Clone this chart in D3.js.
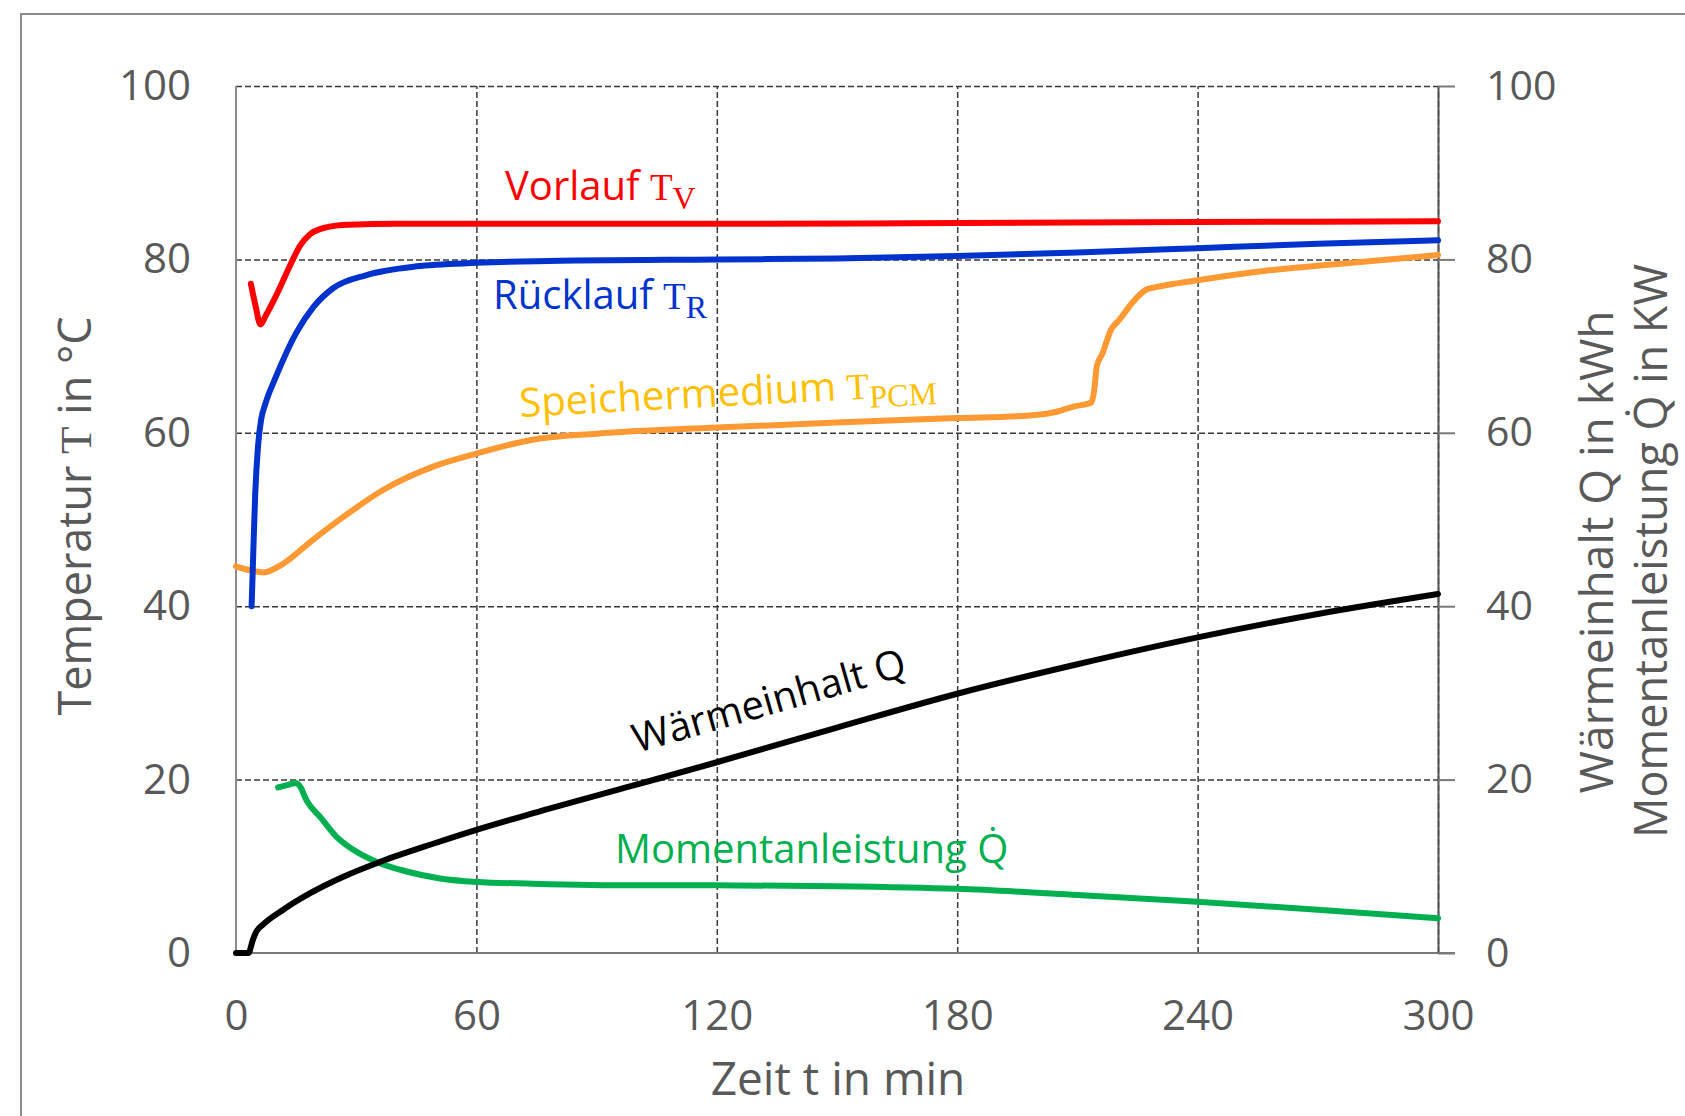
<!DOCTYPE html>
<html>
<head>
<meta charset="utf-8">
<script src="https://cdn.jsdelivr.net/npm/d3@7"></script>
<style>
  body { margin: 0; background: #fff; }
  text { font-family: "Open Sans", "Noto Sans", sans-serif; }
  .serif { font-family: "Liberation Serif", "DejaVu Serif", serif; }
</style>
</head>
<body>
<div id="chart"></div>
<script>
// time in min, value
var vorlauf = [[3.7,77.2],[4.9,74.6],[6.1,72.5],[7.4,73.5],[10.1,75.9],[13.5,79.3],[16,81.6],[18.5,82.9],[22.5,83.7],[28,84.0],[40,84.1],[60,84.1],[120,84.1],[180,84.2],[240,84.3],[300,84.4]];
var ruecklauf = [[3.9,40.0],[4.3,46],[4.8,53],[5.5,58.5],[6.3,61.6],[7.3,63.3],[10,66.5],[15,71.5],[19.3,74.5],[24.3,76.7],[32.6,78.2],[45,79.2],[60,79.6],[75,79.8],[120,80.0],[150,80.1],[180,80.4],[210,80.8],[240,81.3],[270,81.8],[300,82.2]];
var speicher = [[0,44.6],[3,44.2],[6.8,43.9],[11.8,44.9],[18.5,47.4],[26.8,50.3],[36.7,53.4],[49.2,56.1],[60,57.6],[74,59.2],[90,59.9],[120,60.6],[150,61.2],[180,61.7],[198,62.0],[204.6,62.4],[208.8,63.0],[213.5,63.5],[214.3,65.3],[214.8,67.6],[216.3,69.2],[218.4,71.9],[220.4,73.0],[223.7,75.0],[227.1,76.5],[229.6,76.8],[240,77.6],[257,78.7],[273.6,79.4],[300,80.5]];
var waermeinhalt = [[0,0],[3.1,0],[4.2,1.5],[5,2.4],[6.8,3.3],[11.8,5.0],[18.5,6.9],[26.8,8.8],[35.9,10.5],[49.2,12.6],[60,14.2],[74,16.1],[99,19.3],[120,22.0],[150,26.0],[180,29.9],[210,33.3],[240,36.4],[270,39.1],[300,41.4]];
var leistung = [[10.5,19.1],[13,19.4],[15,19.6],[16,19.2],[17.6,17.6],[21,15.7],[25.1,13.4],[29.3,11.9],[35.1,10.5],[42.6,9.4],[50.9,8.6],[60,8.2],[74,8.0],[99,7.8],[120,7.8],[150,7.7],[180,7.4],[210,6.7],[240,5.9],[270,5.0],[300,4.0]];

var xTicks = [0, 60, 120, 180, 240, 300];
var yTicks = [0, 20, 40, 60, 80, 100];

var width = 1685, height = 1116;
var margin = {top: 86, left: 236};
var w = 1202, h = 867;
var gray = "#595959";

var svg = d3.select("#chart").append("svg")
  .attr("width", width).attr("height", height)
  .style("background", "#fff");

// outer frame (runs off the picture right / bottom)
svg.append("rect")
  .attr("x", 21).attr("y", 14).attr("width", 1700).attr("height", 1200)
  .attr("fill", "none").attr("stroke", "#8c8c8c").attr("stroke-width", 2);

var g = svg.append("g").attr("transform", `translate(${margin.left},${margin.top})`);

var x = d3.scaleLinear().domain([0, 300]).range([0, w]);
var y = d3.scaleLinear().domain([0, 100]).range([h, 0]);

// grid
g.append("g")
  .call(d3.axisLeft(y).tickValues(yTicks.slice(1)).tickSize(-w).tickFormat(""))
  .call(a => a.select(".domain").remove())
  .call(a => a.selectAll(".tick line").attr("stroke", "#3a3a3a").attr("stroke-width", 1.5).attr("stroke-dasharray", "6,3"));
g.append("g")
  .attr("transform", `translate(0,${h})`)
  .call(d3.axisBottom(x).tickValues(xTicks.slice(1)).tickSize(-h).tickFormat(""))
  .call(a => a.select(".domain").remove())
  .call(a => a.selectAll(".tick line").attr("stroke", "#3a3a3a").attr("stroke-width", 1.5).attr("stroke-dasharray", "6,3"));

// axis lines
g.append("line").attr("x1", 0).attr("x2", 0).attr("y1", 0).attr("y2", h)
  .attr("stroke", "#8c8c8c").attr("stroke-width", 2);
g.append("line").attr("x1", 0).attr("x2", w + 17).attr("y1", h).attr("y2", h)
  .attr("stroke", "#7a7a7a").attr("stroke-width", 2);

// right axis with outward ticks
g.append("g")
  .attr("transform", `translate(${w},0)`)
  .call(d3.axisRight(y).tickValues(yTicks).tickSize(17).tickSizeOuter(0).tickPadding(31))
  .call(a => a.select(".domain").attr("stroke", "#555").attr("stroke-width", 2))
  .call(a => a.selectAll(".tick line").attr("stroke", "#7a7a7a").attr("stroke-width", 2))
  .call(a => a.selectAll(".tick text").attr("fill", gray).attr("font-size", 41)
    .style("font-family", "'Open Sans', sans-serif"));

// left labels
g.append("g")
  .call(d3.axisLeft(y).tickValues(yTicks).tickSize(0).tickPadding(45))
  .call(a => a.select(".domain").remove())
  .call(a => a.selectAll(".tick text").attr("fill", gray).attr("font-size", 42)
    .style("font-family", "'Open Sans', sans-serif"));

// bottom labels
g.append("g")
  .attr("transform", `translate(0,${h})`)
  .call(d3.axisBottom(x).tickValues(xTicks).tickSize(0).tickPadding(47))
  .call(a => a.select(".domain").remove())
  .call(a => a.selectAll(".tick text").attr("fill", gray).attr("font-size", 42)
    .style("font-family", "'Open Sans', sans-serif"));

// axis titles
svg.append("text")
  .attr("x", 838).attr("y", 1078).attr("dy", "0.36em")
  .attr("text-anchor", "middle").attr("font-size", 46).attr("fill", gray)
  .text("Zeit t in min");

var ttl = svg.append("text")
  .attr("transform", "translate(75,516) rotate(-90)")
  .attr("dy", "0.36em")
  .attr("text-anchor", "middle").attr("font-size", 45).attr("fill", gray);
ttl.append("tspan").text("Temperatur ");
ttl.append("tspan").attr("class", "serif").text("T");
ttl.append("tspan").text(" in °C");

svg.append("text")
  .attr("transform", "translate(1596,552) rotate(-90)")
  .attr("dy", "0.36em")
  .attr("text-anchor", "middle").attr("font-size", 46).attr("fill", gray)
  .text("Wärmeinhalt Q in kWh");
svg.append("text")
  .attr("transform", "translate(1651,551) rotate(-90)")
  .attr("dy", "0.36em")
  .attr("text-anchor", "middle").attr("font-size", 45).attr("fill", gray)
  .text("Momentanleistung Q\u0307 in KW");

// curves
var line = d3.line()
  .x(d => x(d[0]))
  .y(d => y(d[1]))
  .curve(d3.curveMonotoneX);

var series = [
  {data: speicher, color: "#ff9933"},
  {data: ruecklauf, color: "#0033cc"},
  {data: vorlauf, color: "#ff0000"},
  {data: leistung, color: "#00b050"},
  {data: waermeinhalt, color: "#000000"}
];
g.selectAll("path.series")
  .data(series)
  .join("path")
  .attr("class", "series")
  .attr("d", d => line(d.data))
  .attr("fill", "none")
  .attr("stroke", d => d.color)
  .attr("stroke-width", 6)
  .attr("stroke-linejoin", "round")
  .attr("stroke-linecap", "round");

// series labels
function label(px, py, rot, color, main, sym, sub) {
  let t = svg.append("text")
    .attr("transform", `translate(${px},${py}) rotate(${rot})`)
    .attr("font-size", 40).attr("fill", color);
  t.append("tspan").text(main);
  if (sym) {
    t.append("tspan").attr("class", "serif").attr("font-size", 37).text(sym);
  }
  if (sub) {
    t.append("tspan").attr("class", "serif").attr("font-size", 32).attr("dy", 9).text(sub);
  }
}
label(505, 200, 0, "#ff0000", "Vorlauf ", "T", "V");
label(493, 309, 0, "#0033cc", "Rücklauf ", "T", "R");
label(520, 417, -3, "#ffc000", "Speichermedium ", "T", "PCM");
label(637, 753, -16, "#000000", "Wärmeinhalt Q", null, null);
label(615, 863, 0, "#00b050", "Momentanleistung Q\u0307", null, null);
</script>
</body>
</html>
